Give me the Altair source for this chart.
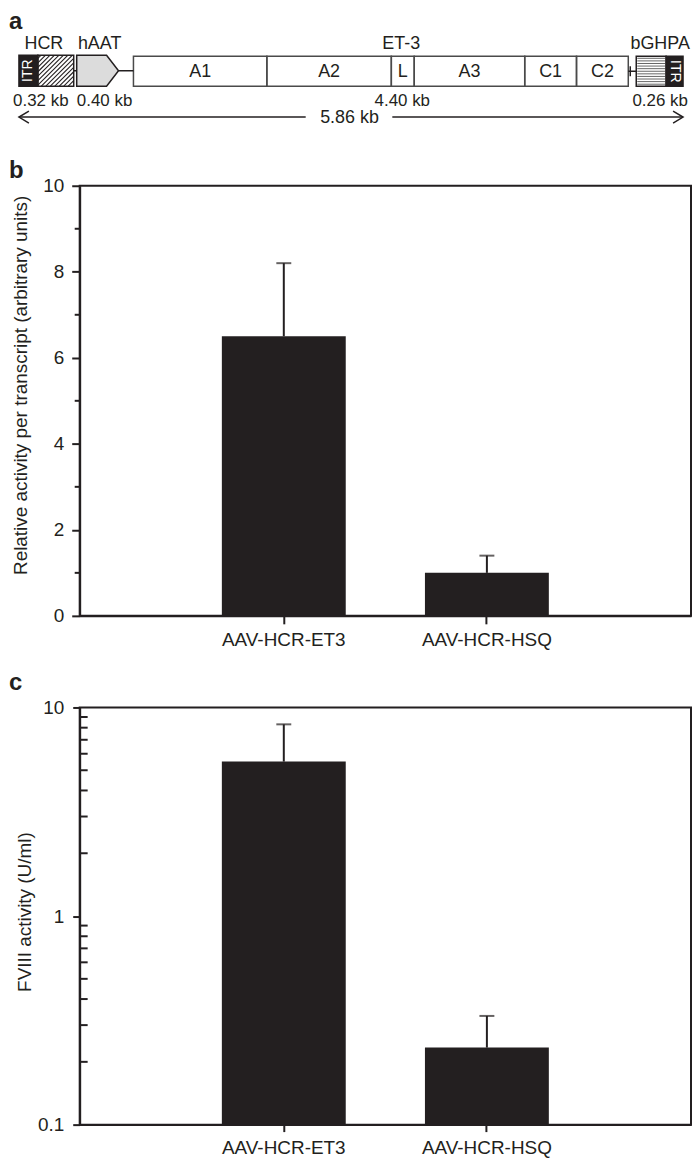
import altair as alt
import pandas as pd

FONT = "Liberation Sans"
INK = "#231f20"

# ---------------- data ----------------
categories = ["AAV-HCR-ET3", "AAV-HCR-HSQ"]
b_values = [6.5, 1.0]
b_upper = [8.2, 1.4]
c_values = [5.5, 0.234]
c_upper = [8.3, 0.332]

# schematic (panel a), in schematic units
et3_names = ["A1", "A2", "L", "A3", "C1", "C2"]
et3_bounds = [133, 267, 392, 415, 526, 578, 630]
top_labels = ["HCR", "hAAT", "ET-3", "bGHPA"]
top_label_pos = [43, 99, 402, 662]
size_labels = ["0.32 kb", "0.40 kb", "4.40 kb", "0.26 kb"]
size_label_pos = [40, 104, 403, 662]
total_label = "5.86 kb"

# ---------------- panel a ----------------
xs = alt.Scale(domain=[79, 693], nice=False, zero=False)
ys = alt.Scale(domain=[8, 137], nice=False, zero=False, reverse=True)


def X(f):
    return alt.X(f, type="quantitative", scale=xs, axis=None)


def Y(f):
    return alt.Y(f, type="quantitative", scale=ys, axis=None)


box_rows = [
    dict(x=18, x2=37, y=53, y2=84, fill=INK, stroke=INK),
    dict(x=37, x2=73, y=53, y2=84, fill="white", stroke=INK),
    dict(x=638, x2=668, y=54, y2=84, fill="white", stroke=INK),
    dict(x=668, x2=685, y=54, y2=84, fill=INK, stroke=INK),
]
for i in range(len(et3_names)):
    box_rows.append(dict(x=et3_bounds[i], x2=et3_bounds[i + 1], y=54, y2=84,
                         fill="white", stroke="#4a4a4a"))
boxes = pd.DataFrame(box_rows)

# hatch lines for HCR (decoration)
hx0, hx1, hy0, hy1 = 37, 73, 53, 84
hatch = []
k = hx0 + hy0 + 3
while k < hx1 + hy1 - 2:
    xa = max(hx0, k - hy1)
    xb = min(hx1, k - hy0)
    hatch.append(dict(x=xa, x2=xb, y=k - xa, y2=k - xb))
    k += 4.5
hatch = pd.DataFrame(hatch)

# horizontal stripes for bGHPA (decoration)
stripes = []
yy = 56
while yy < 83:
    stripes.append(dict(x=639, x2=667, y=yy, y2=yy))
    yy += 2.6
stripes = pd.DataFrame(stripes)

penta = pd.DataFrame({"x": [76, 106, 118], "yt": [53, 53, 68.5], "yb": [84, 84, 68.5]})

connectors = pd.DataFrame([
    dict(x=73, x2=76, y=68.5, y2=68.5),
    dict(x=118, x2=133, y=68.5, y2=68.5),
    dict(x=630, x2=638, y=69, y2=69),
    dict(x=632, x2=632, y=64, y2=74),
    dict(x=18, x2=306, y=115, y2=115),
    dict(x=393, x2=685, y=115, y2=115),
])

arrows = pd.DataFrame([
    dict(g="l", o=0, x=28, y=109), dict(g="l", o=1, x=18, y=115), dict(g="l", o=2, x=28, y=121),
    dict(g="r", o=0, x=675, y=109), dict(g="r", o=1, x=685, y=115), dict(g="r", o=2, x=675, y=121),
])

seg_text = pd.DataFrame({
    "t": et3_names,
    "x": [(et3_bounds[i] + et3_bounds[i + 1]) / 2 for i in range(len(et3_names))],
    "y": [70] * len(et3_names),
})
top_text = pd.DataFrame({"t": top_labels, "x": top_label_pos, "y": [42] * 4})
size_text = pd.DataFrame({"t": size_labels, "x": size_label_pos, "y": [99] * 4})
total_text = pd.DataFrame({"t": [total_label], "x": [350], "y": [116]})
itr_l = pd.DataFrame({"t": ["ITR"], "x": [27.5], "y": [68.5]})
itr_r = pd.DataFrame({"t": ["ITR"], "x": [676.5], "y": [69]})
letter_a = pd.DataFrame({"t": ["a"], "x": [8], "y": [27]})

enc_rect = dict(x=X("x"), x2="x2", y=Y("y"), y2="y2")

a_layers = [
    alt.Chart(boxes).mark_rect().encode(**enc_rect,
                                        fill=alt.Fill("fill:N", scale=None)),
    alt.Chart(hatch).mark_rule(color=INK, strokeWidth=1.1).encode(**enc_rect),
    alt.Chart(stripes).mark_rule(color="#666666", strokeWidth=1).encode(**enc_rect),
    alt.Chart(boxes).mark_rect(filled=False, strokeWidth=1.5).encode(
        **enc_rect, stroke=alt.Stroke("stroke:N", scale=None)),
    alt.Chart(penta).mark_area(fill="#dcdcdc", stroke=INK, strokeWidth=1.5).encode(
        x=X("x"), y=Y("yt"), y2="yb"),
    alt.Chart(connectors).mark_rule(color=INK, strokeWidth=1.5).encode(**enc_rect),
    alt.Chart(arrows).mark_line(color=INK, strokeWidth=1.5).encode(
        x=X("x"), y=Y("y"), detail="g:N", order="o:Q"),
    alt.Chart(seg_text).mark_text(font=FONT, fontSize=18, color=INK, baseline="middle").encode(
        x=X("x"), y=Y("y"), text="t:N"),
    alt.Chart(top_text).mark_text(font=FONT, fontSize=18, color=INK, baseline="middle").encode(
        x=X("x"), y=Y("y"), text="t:N"),
    alt.Chart(size_text).mark_text(font=FONT, fontSize=17, color=INK, baseline="middle").encode(
        x=X("x"), y=Y("y"), text="t:N"),
    alt.Chart(total_text).mark_text(font=FONT, fontSize=18, color=INK, baseline="middle").encode(
        x=X("x"), y=Y("y"), text="t:N"),
    alt.Chart(itr_l).mark_text(font=FONT, fontSize=14, color="white", baseline="middle", angle=270).encode(
        x=X("x"), y=Y("y"), text="t:N"),
    alt.Chart(itr_r).mark_text(font=FONT, fontSize=14, color="white", baseline="middle", angle=90).encode(
        x=X("x"), y=Y("y"), text="t:N"),
    alt.Chart(letter_a).mark_text(font=FONT, fontSize=24, fontWeight="bold", color=INK,
                                  align="left", baseline="alphabetic").encode(
        x=X("x"), y=Y("y"), text="t:N"),
]
panel_a = alt.layer(*a_layers).properties(
    width=614, height=129,
    view=alt.ViewBackground(stroke="transparent", strokeWidth=0))

# ---------------- shared pieces ----------------
xband = alt.Scale(paddingInner=0.39, paddingOuter=0.7)
framed = alt.ViewBackground(stroke=INK, strokeWidth=2)


def panel_letter(letter, dy):
    return alt.Chart(pd.DataFrame({"t": [letter]})).mark_text(
        font=FONT, fontSize=24, fontWeight="bold", color=INK,
        align="left", baseline="alphabetic").encode(
        text="t:N", x=alt.value(-71), y=alt.value(dy))


# ---------------- panel b ----------------
dfb = pd.DataFrame({"cat": categories, "v": b_values, "hi": b_upper})
b_title = "Relative activity per transcript (arbitrary units)"
yb_scale = alt.Scale(domain=[0, 10], nice=False, zero=True)
xb = alt.X("cat:N", sort=categories, title=None, scale=xband,
           axis=alt.Axis(labelAngle=0, tickSize=8, labelPadding=7))
base_b = alt.Chart(dfb).encode(x=xb)
bars_b = base_b.mark_bar(color=INK).encode(
    y=alt.Y("v:Q", scale=yb_scale, title=b_title,
            axis=alt.Axis(values=[0, 2, 4, 6, 8, 10], tickSize=8, labelPadding=8,
                          titleX=-59, titleY=200, titleBaseline="middle")))
err_b = base_b.mark_rule(color=INK, strokeWidth=2).encode(
    y=alt.Y("v:Q", scale=yb_scale, title=b_title), y2="hi:Q")
cap_b = base_b.mark_tick(color=INK, thickness=2, size=15).encode(
    y=alt.Y("hi:Q", scale=yb_scale, title=b_title))
minor_b = alt.Chart(pd.DataFrame({"t": [1, 3, 5, 7, 9]})).mark_rule(color=INK, strokeWidth=2).encode(
    y=alt.Y("t:Q", scale=yb_scale, title=b_title), x=alt.value(-5), x2=alt.value(0))
panel_b = alt.layer(bars_b, err_b, cap_b, minor_b, panel_letter("b", -8)).properties(
    width=614, height=432, view=framed)

# ---------------- panel c ----------------
dfc = pd.DataFrame({"cat": categories, "v": c_values, "hi": c_upper})
c_title = "FVIII activity (U/ml)"
yc_scale = alt.Scale(type="log", domain=[0.1, 10], nice=False)
xc = alt.X("cat:N", sort=categories, title=None, scale=xband,
           axis=alt.Axis(labelAngle=0, tickSize=7, labelPadding=7))
base_c = alt.Chart(dfc).encode(x=xc)
bars_c = base_c.mark_bar(color=INK).encode(
    y=alt.Y("v:Q", scale=yc_scale, title=c_title,
            axis=alt.Axis(values=[0.1, 1, 10], format="~g", tickSize=7, labelPadding=9,
                          titleX=-55, titleY=205, titleBaseline="middle")),
    y2=alt.datum(0.1))
err_c = base_c.mark_rule(color=INK, strokeWidth=2).encode(
    y=alt.Y("v:Q", scale=yc_scale, title=c_title), y2="hi:Q")
cap_c = base_c.mark_tick(color=INK, thickness=2, size=15).encode(
    y=alt.Y("hi:Q", scale=yc_scale, title=c_title))
minor_vals = [m * 0.1 for m in range(2, 10)] + [float(m) for m in range(2, 10)]
minor_c = alt.Chart(pd.DataFrame({"t": minor_vals})).mark_rule(color=INK, strokeWidth=2).encode(
    y=alt.Y("t:Q", scale=yc_scale, title=c_title), x=alt.value(0), x2=alt.value(8))
panel_c = alt.layer(bars_c, err_c, cap_c, minor_c, panel_letter("c", -18)).properties(
    width=614, height=419, view=framed)

chart = alt.vconcat(panel_a, panel_b, panel_c, spacing=19).properties(
    padding=0
).configure_view(stroke="transparent").configure_axis(
    labelFont=FONT, titleFont=FONT, labelFontSize=19, titleFontSize=19,
    titleFontWeight="normal", labelColor=INK, titleColor=INK, tickColor=INK,
    domainColor=INK, tickWidth=2, domainWidth=2, grid=False)

chart.save("out.html", embed_options={"renderer": "svg", "actions": False})
